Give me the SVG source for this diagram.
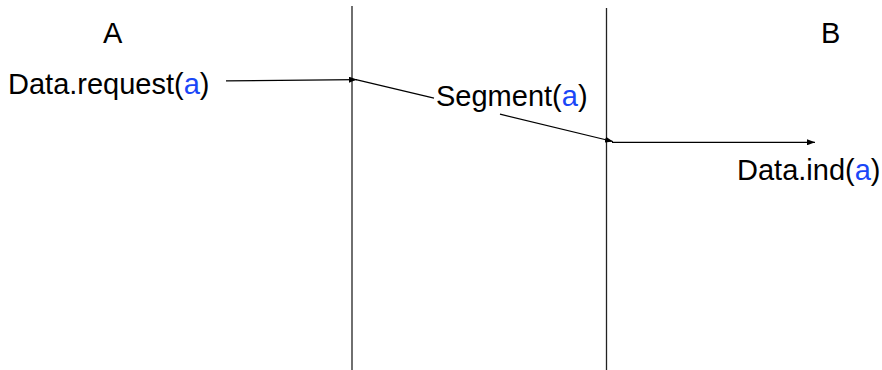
<svg xmlns="http://www.w3.org/2000/svg" width="882" height="370" viewBox="0 0 882 370">
<style>
text{font-family:"Liberation Sans",Arial,sans-serif;font-size:29px;fill:#000}
.b{fill:#1a47f7}
.ln{stroke:#000;stroke-width:1.2;fill:none}
.v{stroke:#222;stroke-width:1.3}
</style>
<defs>
<marker id="ah" viewBox="0 0 8 6" refX="8" refY="3" markerWidth="8" markerHeight="6" markerUnits="userSpaceOnUse" orient="auto">
<path d="M0,0 L8,3 L0,6 z" fill="#000"/>
</marker>
</defs>
<rect width="882" height="370" fill="#fff"/>
<g id="lifelines">
<line class="v" x1="352" y1="6" x2="352" y2="370"/>
<line class="v" x1="606.5" y1="8" x2="606.5" y2="370"/>
</g>
<g id="connectors">
<line class="ln" x1="226" y1="80.8" x2="357" y2="79.6" marker-end="url(#ah)"/>
<line class="ln" x1="356" y1="79.6" x2="434" y2="98.2"/>
<line class="ln" x1="500" y1="114.2" x2="613" y2="141.5" marker-end="url(#ah)"/>
<line class="ln" x1="612" y1="142.3" x2="815" y2="142.3" marker-end="url(#ah)"/>
</g>
<g id="nodeA"><text x="103" y="43">A</text></g>
<g id="nodeB"><text x="821" y="43">B</text></g>
<g id="req"><text x="8" y="94">Data.request(<tspan class="b">a</tspan>)</text></g>
<g id="seg"><text x="436" y="106">Segment(<tspan class="b">a</tspan>)</text></g>
<g id="ind"><text x="737" y="180">Data.ind(<tspan class="b">a</tspan>)</text></g>
</svg>
